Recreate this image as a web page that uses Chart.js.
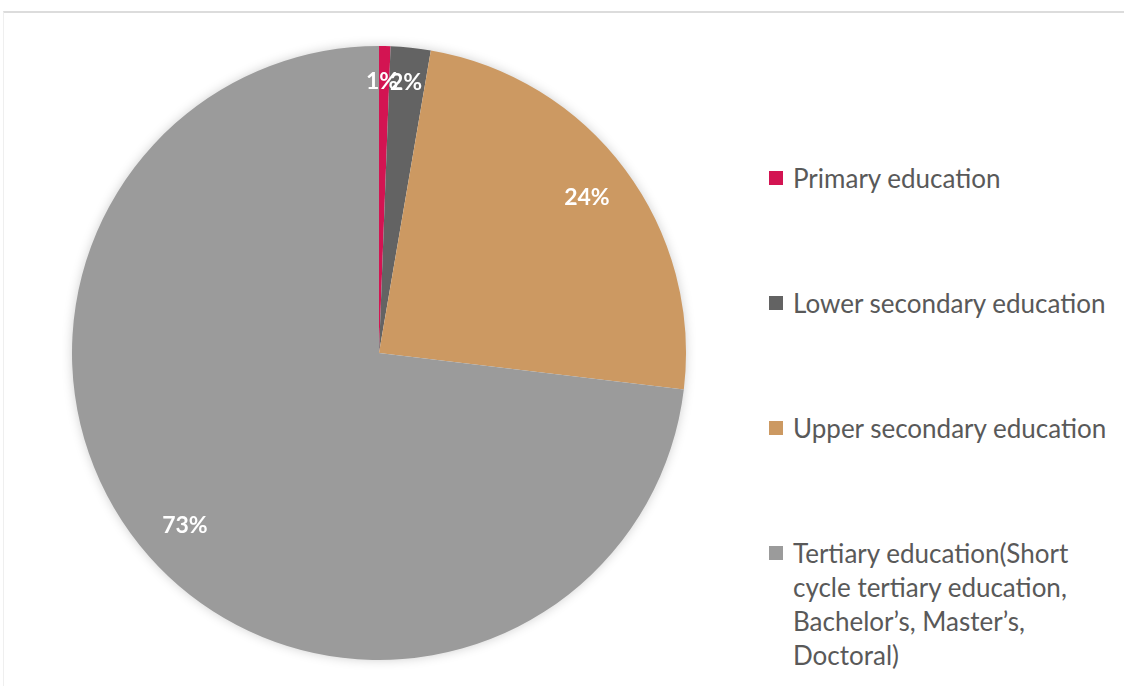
<!DOCTYPE html>
<html>
<head>
<meta charset="utf-8">
<script src="https://cdn.jsdelivr.net/npm/chart.js@4/dist/chart.umd.min.js"></script>
<style>
    body { margin: 0; background: #fff; width: 1124px; height: 686px; overflow: hidden; font-family: Lato, 'Open Sans', sans-serif; }
    .frame { position: absolute; left: 3px; top: 11px; right: 0; bottom: 0; border-top: 2px solid #dcdcdc; border-left: 1px solid #efefef; }
    .pie-wrap { position: absolute; left: 62px; top: 36px; width: 634px; height: 634px; }
    #legend { position: absolute; left: 769px; top: 0; }
    .item { position: absolute; left: 0; color: #595959; font-size: 26px; line-height: 34px; padding-left: 24px; white-space: nowrap; }
    .item.wrap { width: 296px; white-space: normal; }
    .item .box { position: absolute; left: 0; top: 10px; width: 14px; height: 14px; }
</style>
</head>
<body>
<div class="frame"></div>
<div class="pie-wrap"><canvas id="eduPie"></canvas></div>
<div id="legend"></div>

<script>
const labels = [
    'Primary education',
    'Lower secondary education',
    'Upper secondary education',
    'Tertiary education(Short cycle tertiary education, Bachelor\u2019s, Master\u2019s, Doctoral)'
];
const shares = [0.6, 2.1, 24.2, 73.1];
const colors = ['#D31452', '#636363', '#CC9962', '#9B9B9B'];
const legendTops = [161, 286, 411, 536];

// soft shadow under the whole pie
const pieShadow = {
    id: 'pieShadow',
    beforeDatasetsDraw(chart) {
        const arc = chart.getDatasetMeta(0).data[0];
        if (!arc) return;
        const ctx = chart.ctx;
        ctx.save();
        ctx.shadowColor = 'rgba(0,0,0,0.22)';
        ctx.shadowBlur = 12;
        ctx.fillStyle = '#fff';
        ctx.beginPath();
        ctx.arc(arc.x, arc.y, arc.outerRadius - 1, 0, Math.PI * 2);
        ctx.fill();
        ctx.restore();
    }
};

// percentage labels inside the slices
const sliceLabels = {
    id: 'sliceLabels',
    afterDatasetsDraw(chart) {
        const ctx = chart.ctx;
        const meta = chart.getDatasetMeta(0);
        ctx.save();
        ctx.fillStyle = '#fff';
        ctx.font = 'bold 23px Lato, "Open Sans", sans-serif';
        ctx.textAlign = 'center';
        ctx.textBaseline = 'middle';
        meta.data.forEach((arc, i) => {
            const mid = (arc.startAngle + arc.endAngle) / 2;
            const r = arc.outerRadius * 0.845;
            let x = arc.x + Math.cos(mid) * r;
            let y = arc.y + Math.sin(mid) * r;
            // the two thin slices at the top get their labels side by side
            if (i === 0) { x = arc.x + 3; y = arc.y - arc.outerRadius * 0.885; }
            if (i === 1) { x = arc.x + 27; y = arc.y - arc.outerRadius * 0.88; }
            ctx.fillText(Math.round(shares[i]) + '%', x, y);
        });
        ctx.restore();
    }
};

new Chart(document.getElementById('eduPie').getContext('2d'), {
    type: 'pie',
    data: {
        labels,
        datasets: [{ data: shares, backgroundColor: colors, borderWidth: 0 }]
    },
    options: {
        responsive: true,
        maintainAspectRatio: false,
        animation: false,
        layout: { padding: 10 },
        plugins: { legend: { display: false }, tooltip: { enabled: false } }
    },
    plugins: [pieShadow, sliceLabels]
});

document.getElementById('legend').innerHTML = labels.map((l, i) => `
    <div class="item${i === labels.length - 1 ? ' wrap' : ''}" style="top:${legendTops[i]}px">
        <span class="box" style="background:${colors[i]}"></span>${l}
    </div>`).join('');
</script>
</body>
</html>
